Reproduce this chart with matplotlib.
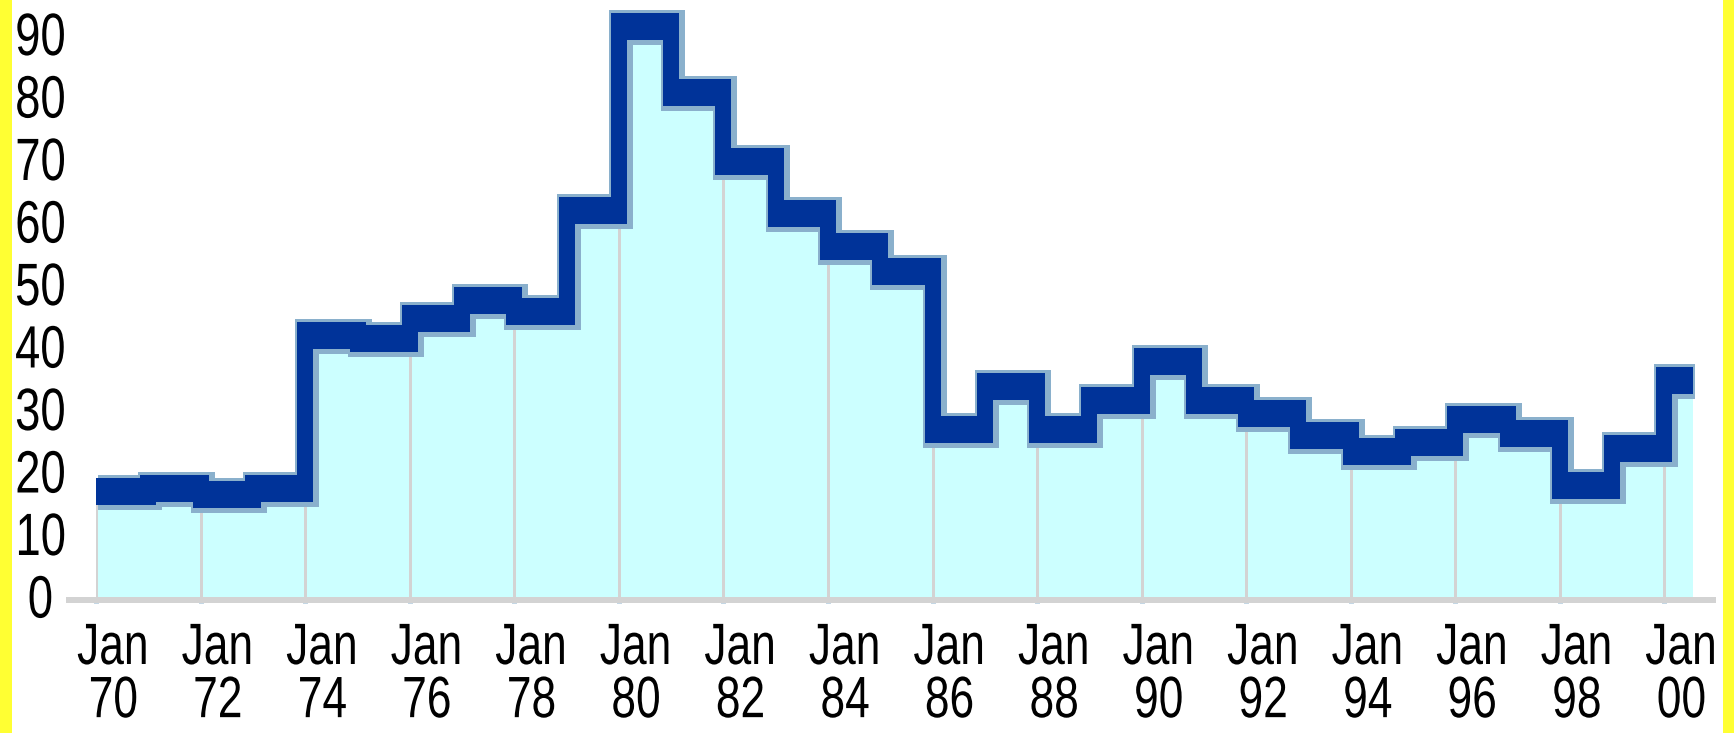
import matplotlib
matplotlib.use("Agg")
import matplotlib.pyplot as plt
from matplotlib import patheffects
from matplotlib.patches import Rectangle
from matplotlib.transforms import Affine2D, ScaledTranslation

# yearly values, data runs to mid 2000
years = list(range(1970, 2001))
values = [17.3, 17.8, 16.9, 17.8, 42.4, 41.9, 45.1, 48.0, 46.1, 62.4,
          91.7, 81.2, 70.2, 61.8, 56.6, 52.5, 27.3, 34.1, 27.3, 32.0,
          38.2, 32.0, 29.9, 26.3, 23.7, 25.2, 28.9, 26.7, 18.4, 24.2,
          35.2]
last_edge = 2000.55
tick_years = list(range(1970, 2001, 2))
tick_labels = ["Jan\n%02d" % (y % 100) for y in tick_years]
y_ticks = list(range(0, 100, 10))

DPI = 100
W, H = 1734, 733

def px(n):
    # pixels -> points
    return n * 72.0 / DPI


class Squeeze(patheffects.AbstractPathEffect):
    """Narrow the glyphs horizontally about their own centre."""
    def __init__(self, sx):
        super().__init__()
        self.sx = sx

    def draw_path(self, renderer, gc, tpath, affine, rgbFace=None):
        ext = tpath.get_extents(affine)
        cx = (ext.x0 + ext.x1) / 2
        sq = Affine2D().translate(-cx, 0).scale(self.sx, 1).translate(cx, 0)
        renderer.draw_path(gc, tpath, affine + sq, rgbFace)


plt.rcParams["font.family"] = ["Liberation Sans", "DejaVu Sans"]

fig = plt.figure(figsize=(W / DPI, H / DPI), dpi=DPI, facecolor="white")
ax = fig.add_axes([69 / W, (H - 600) / H, (1713 - 69) / W, 600 / H])
ax.set_xlim(1969.48, 2000.93)
ax.set_ylim(0, 96)

def shift(dx, dy):
    return ax.transData + ScaledTranslation(dx / DPI, dy / DPI, fig.dpi_scale_trans)

xs = years + [last_edge]
ys = values + [values[-1]]

# area under the line
fill = ax.fill_between(xs, ys, step="post", color="#CCFFFF", lw=0,
                       zorder=1, transform=shift(0, -13))

# drop lines, only inside the area
drops = ax.vlines(tick_years, 0, 100, colors="#D3D3D3", lw=px(3), zorder=1.5)
drops.set_clip_path(fill.get_paths()[0], fill.get_transform())

# thick line with a little depth
for dy in (-5.5, 5.5):
    ax.step(xs, ys, where="post", color="#8AB0CC", lw=px(24),
            solid_joinstyle="miter", solid_capstyle="butt",
            transform=shift(2, dy - 1), zorder=2)
for dy in (-5.5, 5.5):
    ax.step(xs, ys, where="post", color="#003399", lw=px(16),
            solid_joinstyle="miter", solid_capstyle="butt",
            transform=shift(0, dy), zorder=3)

for s in ["top", "right", "left"]:
    ax.spines[s].set_visible(False)
ax.spines["bottom"].set_color("#D3D3D3")
ax.spines["bottom"].set_linewidth(px(6))
ax.spines["bottom"].set_zorder(4)

narrow = [Squeeze(0.76)]

ax.set_xticks(tick_years)
ax.set_xticklabels(tick_labels)
ax.tick_params(axis="x", direction="inout", length=px(6), width=px(5),
               color="#8AB0CC", pad=px(19), labelsize=42)
for lab in ax.get_xticklabels():
    lab.set_linespacing(0.98)
    lab.set_path_effects(narrow)
    lab.set_transform(lab.get_transform() + ScaledTranslation(17 / DPI, 0, fig.dpi_scale_trans))

ax.set_yticks(y_ticks)
ax.tick_params(axis="y", length=0, pad=px(28.5), labelsize=43)
for lab in ax.get_yticklabels():
    lab.set_horizontalalignment("center")
    lab.set_path_effects(narrow)
    lab.set_transform(lab.get_transform() + ScaledTranslation(0, 4 / DPI, fig.dpi_scale_trans))

# yellow side borders
fig.add_artist(Rectangle((0, 0), 12 / W, 1, transform=fig.transFigure,
                         color="#FFFF33", lw=0, zorder=10))
fig.add_artist(Rectangle((1723 / W, 0), 11 / W, 1, transform=fig.transFigure,
                         color="#FFFF33", lw=0, zorder=10))

fig.savefig("out.png", dpi=DPI)
